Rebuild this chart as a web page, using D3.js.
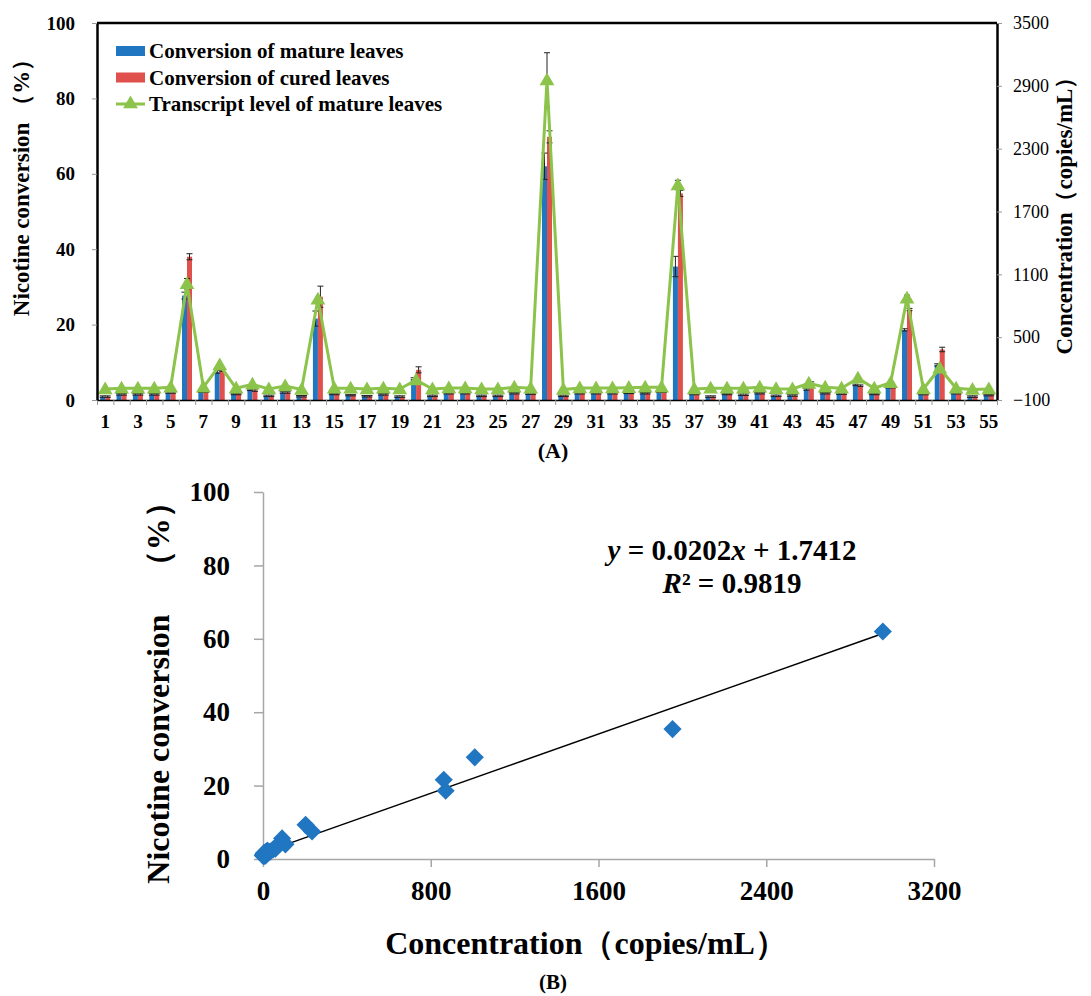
<!DOCTYPE html>
<html>
<head>
<meta charset="utf-8">
<script src="https://cdn.jsdelivr.net/npm/d3@7"></script>
<style>
body { margin: 0; background: #fff; }
svg, text { font-family: "Liberation Serif", "Times New Roman", serif; }
</style>
</head>
<body>
<svg id="chart" width="1091" height="996"></svg>
<script>
// sample numbers 1..55
const samples = d3.range(1, 56);

// nicotine conversion of mature leaves (%)
const mature = [0.9, 1.5, 1.5, 1.5, 2.0, 27.7, 2.2, 7.5, 1.6, 2.7,
                1.1, 2.0, 1.0, 21.6, 1.6, 1.3, 1.0, 1.5, 0.9, 5.6,
                1.1, 1.8, 1.8, 1.1, 1.1, 1.8, 1.7, 62.0, 1.1, 1.8,
                1.8, 1.8, 1.9, 1.8, 2.2, 35.4, 1.6, 0.9, 1.6, 1.4,
                1.8, 1.1, 1.2, 2.8, 1.8, 1.7, 4.0, 1.6, 3.4, 18.6,
                1.6, 9.3, 1.8, 0.9, 1.3];
const matureErr = [0.2, 0.2, 0.2, 0.2, 0.2, 0.9, 0.2, 0.4, 0.2, 0.2,
                   0.2, 0.2, 0.2, 2.0, 0.2, 0.2, 0.2, 0.2, 0.2, 0.3,
                   0.2, 0.2, 0.2, 0.2, 0.2, 0.2, 0.2, 3.5, 0.2, 0.2,
                   0.2, 0.2, 0.2, 0.2, 0.2, 2.7, 0.2, 0.2, 0.2, 0.2,
                   0.2, 0.2, 0.2, 0.2, 0.2, 0.2, 0.2, 0.2, 0.2, 0.3,
                   0.2, 0.3, 0.2, 0.2, 0.2];

// nicotine conversion of cured leaves (%)
const cured = [0.9, 1.5, 1.5, 1.5, 2.0, 38.0, 2.2, 8.0, 1.6, 2.6,
               1.1, 2.0, 1.0, 27.4, 1.6, 1.3, 1.0, 1.5, 0.9, 8.0,
               1.1, 1.8, 1.8, 1.1, 1.1, 1.8, 1.7, 69.8, 1.1, 1.8,
               1.8, 1.8, 1.9, 1.8, 2.2, 54.8, 1.6, 0.9, 1.6, 1.4,
               1.8, 1.1, 1.2, 4.5, 1.8, 1.7, 3.8, 1.6, 3.4, 24.0,
               1.6, 13.4, 1.8, 0.9, 1.3];
const curedErr = [0.2, 0.2, 0.2, 0.2, 0.2, 0.8, 0.2, 0.4, 0.2, 0.3,
                  0.2, 0.2, 0.2, 2.8, 0.2, 0.2, 0.2, 0.2, 0.2, 0.8,
                  0.2, 0.2, 0.2, 0.2, 0.2, 0.2, 0.2, 1.6, 0.2, 0.2,
                  0.2, 0.2, 0.2, 0.2, 0.2, 0.8, 0.2, 0.2, 0.2, 0.2,
                  0.2, 0.2, 0.2, 0.3, 0.2, 0.2, 0.2, 0.2, 0.2, 0.3,
                  0.2, 0.6, 0.2, 0.2, 0.2];

// transcript level of mature leaves (copies/mL)
const transcript = [5, 12, 12, 12, 21, 1010, 21, 234, 12, 50,
                    5, 34, 0, 862, 12, 12, 5, 12, 5, 91,
                    5, 15, 15, 5, 5, 21, 12, 2956, 0, 15,
                    15, 15, 18, 21, 21, 1953, 5, 12, 12, 12,
                    21, 8, 5, 59, 21, 12, 107, 12, 65, 871,
                    5, 203, 12, 0, 5];
const transcriptErr = [0, 0, 0, 0, 0, 50, 0, 0, 0, 0,
                       0, 0, 0, 0, 0, 0, 0, 0, 0, 0,
                       0, 0, 0, 0, 0, 0, 0, 260, 0, 0,
                       0, 0, 0, 0, 0, 45, 0, 0, 0, 0,
                       0, 0, 0, 0, 0, 0, 0, 0, 0, 30,
                       0, 0, 0, 0, 0];

const leftTicksA = [0, 20, 40, 60, 80, 100];
const rightTicksA = [-100, 500, 1100, 1700, 2300, 2900, 3500];
const xTicksB = [0, 800, 1600, 2400, 3200];
const yTicksB = [0, 20, 40, 60, 80, 100];
const fitSlope = 0.0202, fitIntercept = 1.7412;

const blue = "#2176c2", red = "#e0504d", green = "#8cc34b";
const serif = "Liberation Serif";
const svg = d3.select("#chart");

// ---------- panel A ----------
const A = {left: 97, right: 997, top: 23, bottom: 400};
const x = d3.scaleBand().domain(samples).range([A.left, A.right]);
const xLin = d3.scaleLinear().domain([0.5, 55.5]).range([A.left, A.right]);
const yL = d3.scaleLinear().domain([0, 100]).range([A.bottom, A.top]);
const yR = d3.scaleLinear().domain([-100, 3500]).range([A.bottom, A.top]);
const bw = 5;

const gA = svg.append("g");

gA.selectAll("rect.mature").data(samples).enter().append("rect")
  .attr("x", d => x(d) + x.bandwidth() / 2 - bw)
  .attr("y", (d, i) => yL(mature[i]))
  .attr("width", bw)
  .attr("height", (d, i) => yL(0) - yL(mature[i]))
  .attr("fill", blue);

gA.selectAll("rect.cured").data(samples).enter().append("rect")
  .attr("x", d => x(d) + x.bandwidth() / 2)
  .attr("y", (d, i) => yL(cured[i]))
  .attr("width", bw)
  .attr("height", (d, i) => yL(0) - yL(cured[i]))
  .attr("fill", red);

function errBars(g, vals, errs, cx, y) {
  samples.forEach((d, i) => {
    if (!errs[i]) return;
    const c = cx(d), lo = y(vals[i] - errs[i]), hi = y(vals[i] + errs[i]);
    g.append("line").attr("x1", c).attr("x2", c).attr("y1", lo).attr("y2", hi);
    g.append("line").attr("x1", c - 3).attr("x2", c + 3).attr("y1", lo).attr("y2", lo);
    g.append("line").attr("x1", c - 3).attr("x2", c + 3).attr("y1", hi).attr("y2", hi);
  });
}
const gErr = gA.append("g").attr("stroke", "#222").attr("stroke-width", 1);
errBars(gErr, mature, matureErr, d => x(d) + x.bandwidth() / 2 - bw / 2, yL);
errBars(gErr, cured, curedErr, d => x(d) + x.bandwidth() / 2 + bw / 2, yL);
errBars(gErr, transcript, transcriptErr, d => x(d) + x.bandwidth() / 2, yR);

const line = d3.line().x(d => x(d) + x.bandwidth() / 2).y((d, i) => yR(transcript[i]));
gA.append("path").datum(samples).attr("d", line)
  .attr("fill", "none").attr("stroke", green).attr("stroke-width", 3);

const tri = d3.symbol(d3.symbolTriangle, 95);
gA.selectAll("path.tri").data(samples).enter().append("path")
  .attr("d", tri)
  .attr("transform", (d, i) => `translate(${x(d) + x.bandwidth() / 2},${yR(transcript[i]) + 1})`)
  .attr("fill", green);

// axes A
const axB = gA.append("g").attr("transform", `translate(0,${A.bottom})`)
  .call(d3.axisBottom(xLin).tickValues(d3.range(0.5, 56, 1)).tickFormat("").tickSize(5).tickSizeOuter(0));
axB.select(".domain").attr("stroke", "#000").attr("stroke-width", 1.5);
axB.selectAll(".tick line").attr("stroke", "#999");

gA.selectAll("text.xl").data(samples.filter(d => d % 2 === 1)).enter().append("text")
  .attr("x", d => x(d) + x.bandwidth() / 2).attr("y", 428)
  .attr("text-anchor", "middle").attr("font-size", 19).attr("font-weight", "bold")
  .text(d => d);

const axL = gA.append("g").attr("transform", `translate(${A.left},0)`)
  .call(d3.axisLeft(yL).tickValues(leftTicksA).tickSize(5).tickSizeOuter(0).tickPadding(17));
axL.select(".domain").attr("stroke", "#000").attr("stroke-width", 2.5);
axL.selectAll(".tick line").attr("stroke", "#999");
axL.selectAll(".tick text").attr("font-size", 19).attr("font-weight", "bold")
  .attr("font-family", serif).attr("fill", "#000");

const axR = gA.append("g").attr("transform", `translate(${A.right},0)`)
  .call(d3.axisRight(yR).tickValues(rightTicksA).tickSize(5).tickSizeOuter(0).tickPadding(11)
    .tickFormat(d => d < 0 ? "\u2212" + (-d) : d));
axR.select(".domain").attr("stroke", "#000").attr("stroke-width", 2.5);
axR.selectAll(".tick line").attr("stroke", "#999");
axR.selectAll(".tick text").attr("font-size", 18)
  .attr("font-family", serif).attr("fill", "#000");

gA.append("line").attr("x1", A.left).attr("x2", A.right).attr("y1", A.top).attr("y2", A.top)
  .attr("stroke", "#000").attr("stroke-width", 2.5);

gA.append("text").attr("transform", `translate(29,182) rotate(-90)`)
  .attr("text-anchor", "middle").attr("font-size", 23).attr("font-weight", "bold")
  .text("Nicotine conversion （%）");
gA.append("text").attr("transform", `translate(1072,210) rotate(-90)`)
  .attr("text-anchor", "middle").attr("font-size", 23).attr("font-weight", "bold")
  .text("Concentration（copies/mL）");

// legend
const legend = [
  {label: "Conversion of mature leaves", color: blue, type: "rect"},
  {label: "Conversion of cured leaves", color: red, type: "rect"},
  {label: "Transcript level of mature leaves", color: green, type: "line"}
];
const lg = gA.append("g");
legend.forEach((l, i) => {
  const cy = 51 + i * 26.5;
  if (l.type === "rect") {
    lg.append("rect").attr("x", 116).attr("y", cy - 5).attr("width", 29).attr("height", 10).attr("fill", l.color);
  } else {
    lg.append("line").attr("x1", 116).attr("x2", 145).attr("y1", cy).attr("y2", cy)
      .attr("stroke", l.color).attr("stroke-width", 3);
    lg.append("path").attr("d", tri).attr("transform", `translate(130.5,${cy})`).attr("fill", l.color);
  }
  lg.append("text").attr("x", 149).attr("y", cy + 7).attr("font-size", 21).attr("font-weight", "bold")
    .text(l.label);
});

svg.append("text").attr("x", 553).attr("y", 458).attr("text-anchor", "middle")
  .attr("font-size", 22).attr("font-weight", "bold").text("(A)");

// ---------- panel B ----------
const B = {left: 263, right: 934, top: 492, bottom: 859};
const xB = d3.scaleLinear().domain([0, 3200]).range([B.left, B.right]);
const yB = d3.scaleLinear().domain([0, 100]).range([B.bottom, B.top]);
const gB = svg.append("g");

const axBX = gB.append("g").attr("transform", `translate(0,${B.bottom})`)
  .call(d3.axisBottom(xB).tickValues(xTicksB).tickFormat(d3.format("d"))
    .tickSize(8).tickSizeOuter(0).tickPadding(14));
const axBY = gB.append("g").attr("transform", `translate(${B.left},0)`)
  .call(d3.axisLeft(yB).tickValues(yTicksB).tickSize(9).tickSizeOuter(0).tickPadding(24));
[axBX, axBY].forEach(a => {
  a.select(".domain").attr("stroke", "#a6a6a6").attr("stroke-width", 1.5);
  a.selectAll(".tick line").attr("stroke", "#a6a6a6").attr("stroke-width", 1.5);
  a.selectAll(".tick text").attr("font-size", 27).attr("font-weight", "bold")
    .attr("font-family", serif).attr("fill", "#000");
});

const xMax = d3.max(transcript);
gB.append("line")
  .attr("x1", xB(0)).attr("y1", yB(fitIntercept))
  .attr("x2", xB(xMax)).attr("y2", yB(fitSlope * xMax + fitIntercept))
  .attr("stroke", "#000").attr("stroke-width", 1.5);

const dia = d3.symbol(d3.symbolSquare, 165);
gB.selectAll("path.pt").data(samples).enter().append("path")
  .attr("d", dia)
  .attr("transform", (d, i) => `translate(${xB(Math.max(transcript[i], 0))},${yB(mature[i])}) rotate(45)`)
  .attr("fill", blue);

const eq = gB.append("text").attr("x", 732).attr("y", 560).attr("text-anchor", "middle")
  .attr("font-size", 29).attr("font-weight", "bold");
eq.append("tspan").attr("font-style", "italic").text("y");
eq.append("tspan").text(" = 0.0202");
eq.append("tspan").attr("font-style", "italic").text("x");
eq.append("tspan").text(" + 1.7412");
const r2 = gB.append("text").attr("x", 732).attr("y", 593).attr("text-anchor", "middle")
  .attr("font-size", 29).attr("font-weight", "bold");
r2.append("tspan").attr("font-style", "italic").text("R");
r2.append("tspan").text("² = 0.9819");

gB.append("text").attr("transform", `translate(169,685) rotate(-90)`)
  .attr("text-anchor", "middle").attr("font-size", 32).attr("font-weight", "bold")
  .text("Nicotine conversion　（%）");
gB.append("text").attr("x", 586).attr("y", 954).attr("text-anchor", "middle")
  .attr("font-size", 32).attr("font-weight", "bold")
  .text("Concentration（copies/mL）");

svg.append("text").attr("x", 553).attr("y", 989).attr("text-anchor", "middle")
  .attr("font-size", 21).attr("font-weight", "bold").text("(B)");
</script>
</body>
</html>
